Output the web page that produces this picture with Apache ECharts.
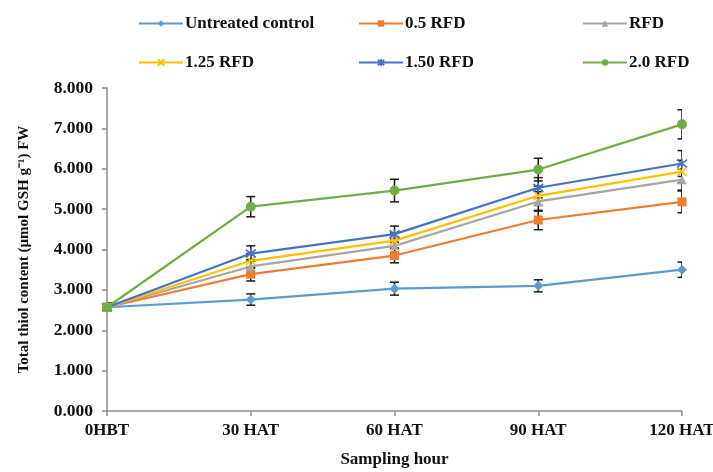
<!DOCTYPE html>
<html>
<head>
<meta charset="utf-8">
<script src="https://cdn.jsdelivr.net/npm/echarts@6/dist/echarts.min.js"></script>
<style>
  html, body { margin: 0; padding: 0; background: #fff; }
  #chart { width: 713px; height: 472px; }
</style>
</head>
<body>
<div id="chart"></div>
<script>
// Sampling times
const categories = ['0HBT', '30 HAT', '60 HAT', '90 HAT', '120 HAT'];
const seriesNames = ['Untreated control', '0.5 RFD', 'RFD', '1.25 RFD', '1.50 RFD', '2.0 RFD'];

// Total thiol content (µmol GSH g-1 FW)
const untreated = [2.57, 2.76, 3.03, 3.10, 3.50];
const rfd05     = [2.57, 3.39, 3.85, 4.73, 5.18];
const rfd10     = [2.57, 3.58, 4.09, 5.19, 5.73];
const rfd125    = [2.57, 3.72, 4.22, 5.33, 5.93];
const rfd150    = [2.57, 3.90, 4.38, 5.53, 6.13];
const rfd20     = [2.57, 5.06, 5.46, 5.98, 7.10];

// Standard errors
const errUntreated = [0.10, 0.14, 0.16, 0.15, 0.19];
const err05        = [0.10, 0.17, 0.18, 0.24, 0.27];
const err10        = [0.10, 0.17, 0.18, 0.24, 0.26];
const err125       = [0.10, 0.18, 0.19, 0.24, 0.28];
const err150       = [0.10, 0.19, 0.20, 0.25, 0.32];
const err20        = [0.10, 0.25, 0.28, 0.28, 0.36];

const values = [untreated, rfd05, rfd10, rfd125, rfd150, rfd20];
const errors = [errUntreated, err05, err10, err125, err150, err20];

const colors = ['#5B9BD5', '#ED7D31', '#A5A5A5', '#FFC000', '#4472C4', '#70AD47'];
const symbols = [
  'diamond',
  'rect',
  'triangle',
  'path://M0,0 L10,10 M10,0 L0,10',
  'path://M0,0 L10,10 M10,0 L0,10 M5,-1.5 L5,11.5',
  'circle'
];
const symbolSizes = [10, 9, 9, 9, 10, 10];

const serif = '"Liberation Serif", "Times New Roman", serif';

const chart = echarts.init(document.getElementById('chart'), null, { renderer: 'canvas' });

const lineSeries = seriesNames.map((name, i) => {
  const isPath = symbols[i].startsWith('path://');
  return {
    name: name,
    type: 'line',
    data: values[i],
    symbol: symbols[i],
    symbolSize: symbolSizes[i],
    showSymbol: true,
    z: 3 + i,
    lineStyle: { color: colors[i], width: 2.2 },
    itemStyle: isPath
      ? { color: colors[i], borderColor: colors[i], borderWidth: 1.6 }
      : { color: colors[i], borderColor: colors[i], borderWidth: 0 },
    emphasis: { disabled: true },
    animation: false
  };
});

const errorSeries = values.map((vals, i) => ({
  name: seriesNames[i] + ' error',
  type: 'custom',
  clip: true,
  z: 2,
  data: vals.map((v, j) => [j, v, errors[i][j]]),
  encode: { x: 0, y: 1 },
  renderItem: function (params, api) {
    const x = api.value(0);
    const v = api.value(1);
    const e = api.value(2);
    const top = api.coord([x, v + e]);
    const bot = api.coord([x, v - e]);
    const hw = 4.5;
    const style = { stroke: '#1a1a1a', lineWidth: 1.5, fill: null };
    return {
      type: 'group',
      children: [
        { type: 'line', shape: { x1: top[0], y1: top[1], x2: bot[0], y2: bot[1] }, style: style },
        { type: 'line', shape: { x1: top[0] - hw, y1: top[1], x2: top[0] + hw, y2: top[1] }, style: style },
        { type: 'line', shape: { x1: bot[0] - hw, y1: bot[1], x2: bot[0] + hw, y2: bot[1] }, style: style }
      ]
    };
  },
  animation: false,
  silent: true
}));

// One legend per entry, laid out in a 3 x 2 block
const legendPos = [
  { left: 133, top: 10 }, { left: 353, top: 10 }, { left: 577, top: 10 },
  { left: 133, top: 49 }, { left: 353, top: 49 }, { left: 577, top: 49 }
];
const legends = seriesNames.map((name, i) => ({
  data: [name],
  left: legendPos[i].left,
  top: legendPos[i].top,
  orient: 'horizontal',
  itemWidth: 44,
  itemHeight: 8,
  itemGap: 4,
  selectedMode: false,
  textStyle: { fontFamily: serif, fontWeight: 'bold', fontSize: 17, color: '#111', padding: [0, 0, 0, -3] }
}));

chart.setOption({
  backgroundColor: '#ffffff',
  animation: false,
  legend: legends,
  grid: { left: 107, right: 31, top: 88, bottom: 61, containLabel: false, outerBoundsMode: 'none' },
  xAxis: {
    type: 'category',
    data: categories,
    boundaryGap: false,
    name: 'Sampling hour',
    nameLocation: 'middle',
    nameGap: 40,
    nameTextStyle: { fontFamily: serif, fontWeight: 'bold', fontSize: 17, color: '#111' },
    axisLine: { lineStyle: { color: '#8c8c8c', width: 1.5 } },
    axisTick: { alignWithLabel: true, length: 5, lineStyle: { color: '#8c8c8c', width: 1.5 } },
    axisLabel: { fontFamily: serif, fontWeight: 'bold', fontSize: 17, color: '#111', margin: 11 },
    splitLine: { show: false }
  },
  yAxis: {
    type: 'value',
    min: 0,
    max: 8,
    interval: 1,
    name: 'Total thiol content (µmol GSH g⁻¹) FW',
    nameLocation: 'middle',
    nameGap: 75,
    nameRotate: 90,
    nameTextStyle: { fontFamily: serif, fontWeight: 'bold', fontSize: 15, color: '#111' },
    axisLine: { show: true, lineStyle: { color: '#8c8c8c', width: 1.5 } },
    axisTick: { show: true, length: 5, lineStyle: { color: '#8c8c8c', width: 1.5 } },
    axisLabel: {
      fontFamily: serif, fontWeight: 'bold', fontSize: 17.5, color: '#111', margin: 14,
      formatter: v => v.toFixed(3)
    },
    splitLine: { show: false }
  },
  series: [...errorSeries, ...lineSeries]
});
</script>
</body>
</html>
